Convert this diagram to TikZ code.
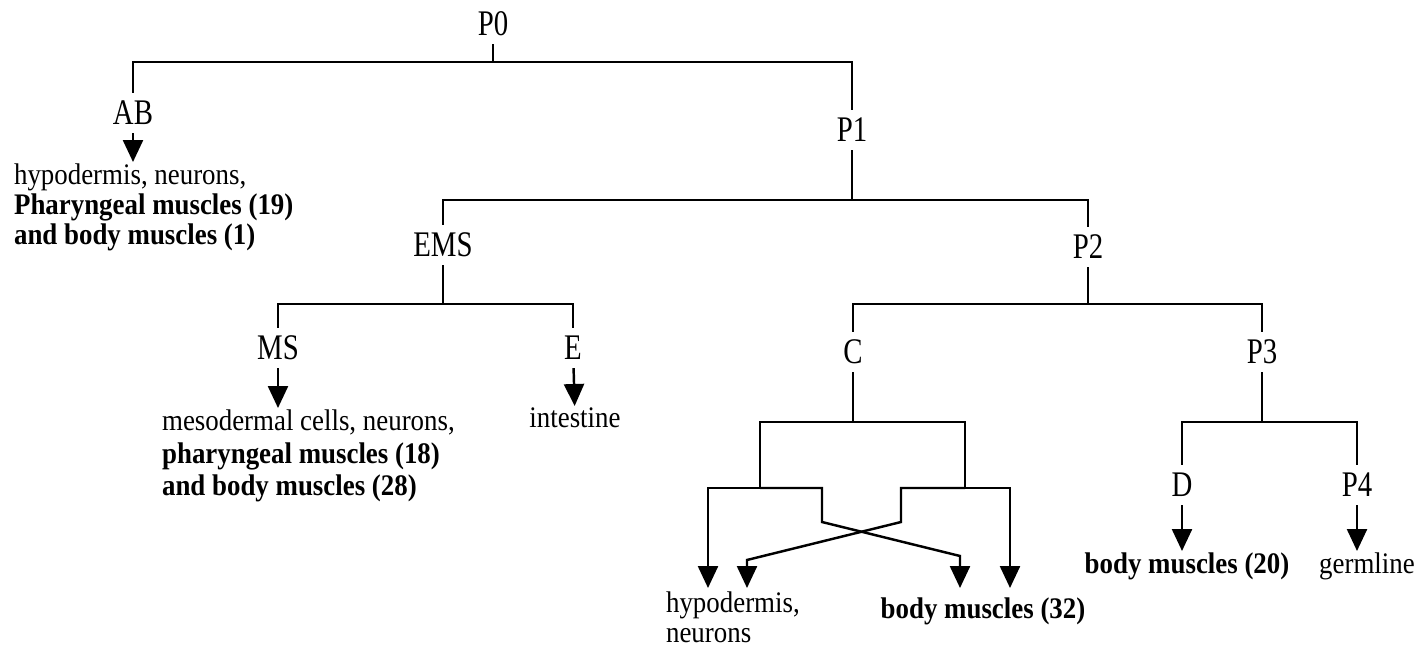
\documentclass[tikz,border=0pt]{standalone}
\usepackage{fontspec}
\setmainfont[FakeStretch=0.9]{Liberation Serif}
\newfontfamily\cellfont[FakeStretch=0.8]{Liberation Serif}
\usetikzlibrary{arrows.meta,positioning,calc}

\begin{document}
\begin{tikzpicture}[
  x=0.02cm, y=-0.02cm,
  cell/.style={font=\cellfont\fontsize{20.5}{22}\selectfont, inner sep=4.5pt},
  fate/.style={font=\fontsize{17}{17}\selectfont, align=left, inner sep=1pt},
  bar/.style={line width=1.4pt},
  arr/.style={line width=1.4pt, -{Triangle[width=4mm,length=4.4mm]}}
]
  \useasboundingbox (0,0) rectangle (1426,648);

  %% Cell names
  \node[cell] (P0)  at (493,24)   {P0};
  \node[cell] (AB)  at (133,113)  {AB};
  \node[cell] (P1)  at (852,130)  {P1};
  \node[cell] (EMS) at (443,245)  {EMS};
  \node[cell] (P2)  at (1088,247) {P2};
  \node[cell] (MS)  at (278,348)  {MS};
  \node[cell] (E)   at (573,348)  {E};
  \node[cell] (C)   at (853,352)  {C};
  \node[cell] (P3)  at (1262,352) {P3};
  \node[cell] (D)   at (1182,485) {D};
  \node[cell] (P4)  at (1357,485) {P4};

  %% Branch points
  \coordinate (b0) at (493,62);
  \coordinate (b1) at (852,200);
  \coordinate (b2) at (443,304);
  \coordinate (b3) at (1088,304);
  \coordinate (b4) at (853,422);
  \coordinate (b5) at (1262,422);
  \coordinate (cl) at (760,488);
  \coordinate (cr) at (965,488);

  %% Fates
  \node[fate, anchor=north west] (ABfate) at (12,162)
    {hypodermis, neurons,\\\textbf{Pharyngeal muscles (19)}\\\textbf{and body muscles (1)}};
  \node[fate, anchor=north west, font=\fontsize{17}{18.5}\selectfont] (MSfate) at (160,408)
    {mesodermal cells, neurons,\\\textbf{pharyngeal muscles (18)}\\\textbf{and body muscles (28)}};
  \node[fate, anchor=north] (Efate) at (575,406) {intestine};
  \node[fate, anchor=north west] (hyp) at (664,590) {hypodermis,\\neurons};
  \node[fate, anchor=north] (bm32) at (983,596) {\textbf{body muscles (32)}};
  \node[fate, anchor=north] (bm20) at (1187,551) {\textbf{body muscles (20)}};
  \node[fate, anchor=north] (germ) at (1367,551) {germline};

  %% Tree
  \draw[bar] (P0) -- (b0);
  \draw[bar] (AB) |- (b0) -| (P1);
  \draw[bar] (P1) -- (b1);
  \draw[bar] (EMS) |- (b1) -| (P2);
  \draw[bar] (EMS) -- (b2);
  \draw[bar] (MS) |- (b2) -| (E);
  \draw[bar] (P2) -- (b3);
  \draw[bar] (C) |- (b3) -| (P3);
  \draw[bar] (C) -- (b4);
  \draw[bar] (cl) |- (b4) -| (cr);
  \draw[bar] (P3) -- (b5);
  \draw[bar] (D) |- (b5) -| (P4);

  %% Arrows to fates
  \draw[arr] (AB) -- (AB |- ABfate.north);
  \draw[arr] (MS) -- (MS |- MSfate.north);
  \draw[arr] (E) -- (Efate);
  \draw[arr] (D) -- (D |- bm20.north);
  \draw[arr] (P4) -- (P4 |- germ.north);

  %% Crossing daughters of C
  \coordinate (hA) at (708,588);
  \coordinate (hB) at (747,588);
  \coordinate (mA) at (960,588);
  \coordinate (mB) at (1010,588);
  \draw[arr] (cl) -| (hA);
  \draw[arr] (cl) -| (822,522) -- (960,556) -- (mA);
  \draw[arr] (cr) -| (mB);
  \draw[arr] (cr) -| (901,522) -- (747,560) -- (hB);
\end{tikzpicture}
\end{document}
